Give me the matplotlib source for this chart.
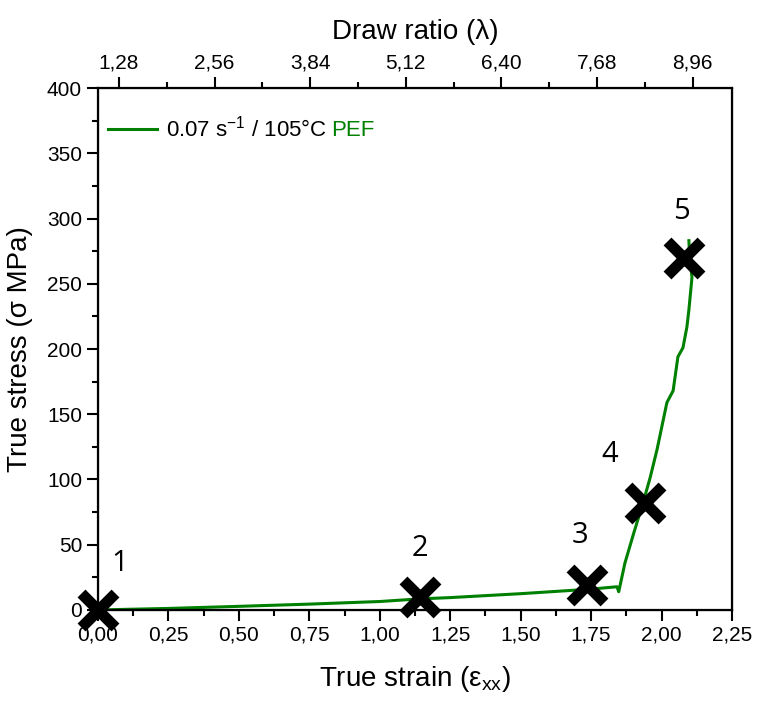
import numpy as np
import matplotlib
matplotlib.use('Agg')
import matplotlib.pyplot as plt
from matplotlib.ticker import MultipleLocator, FixedLocator

plt.rcParams['font.family'] = ['Liberation Sans', 'DejaVu Sans']
plt.rcParams['mathtext.fontset'] = 'custom'
plt.rcParams['mathtext.rm'] = 'Liberation Sans'
plt.rcParams['mathtext.it'] = 'Liberation Sans:italic'

# stress-strain curve
strain = [0.0, 0.10, 0.25, 0.50, 0.75, 1.00, 1.14, 1.25, 1.50, 1.75, 1.80, 1.842, 1.848,
          1.870, 1.90, 1.934, 1.959, 1.984, 2.019, 2.041, 2.058, 2.076, 2.090, 2.097,
          2.108, 2.100, 2.097]
stress = [0.0, 0.5, 1.2, 2.8, 4.5, 6.5, 8.5, 9.5, 12.5, 16.0, 17.0, 17.8, 14.0,
          36.0, 58.0, 82.0, 101.0, 123.0, 159.0, 168.0, 194.0, 201.0, 217.0, 230.0,
          255.0, 270.0, 283.0]

# marked points
mark_x = [0.0, 1.143, 1.735, 1.941, 2.079]
mark_y = [0.0, 10.0, 19.0, 82.0, 270.0]
mark_lbl = ['1', '2', '3', '4', '5']
lbl_x = [0.078, 1.143, 1.71, 1.817, 2.072]
lbl_y = [36.0, 47.5, 57.0, 119.0, 305.0]

top_ticks = [1.28, 2.56, 3.84, 5.12, 6.40, 7.68, 8.96]

fig = plt.figure(figsize=(7.61, 7.03), dpi=100)
ax = fig.add_axes([0.1288, 0.1323, 0.8331, 0.7425])

ax.plot(strain, stress, color='#008000', lw=2.2, label='0.07 s$^{\\mathregular{-1}}$ / 105°C')
ax.plot(mark_x, mark_y, 'x', color='black', ms=25, mew=8, clip_on=False, zorder=5)
for xx, yy, t in zip(lbl_x, lbl_y, mark_lbl):
    ax.text(xx, yy, t, fontsize=21, ha='center', va='center', family=['Open Sans', 'DejaVu Sans'])

ax.set_xlim(0, 2.25)
ax.set_ylim(0, 400)
ax.xaxis.set_major_locator(MultipleLocator(0.25))
ax.xaxis.set_minor_locator(MultipleLocator(0.125))
ax.yaxis.set_major_locator(MultipleLocator(50))
ax.yaxis.set_minor_locator(MultipleLocator(25))
ax.xaxis.set_major_formatter(lambda v, p: '{:.2f}'.format(v).replace('.', ','))
ax.tick_params(which='major', direction='out', length=8, width=1.5, labelsize=15)
ax.tick_params(which='minor', direction='out', length=4, width=1.5)
ax.tick_params(right=False, which='both')
for s in ax.spines.values():
    s.set_linewidth(1.6)

ax.set_xlabel('True strain (ε$_{\\mathregular{xx}}$)', fontsize=20, labelpad=14)
ax.set_ylabel('True stress (σ MPa)', fontsize=20, labelpad=10)

leg = ax.legend(loc='upper left', bbox_to_anchor=(0.005, 0.96), frameon=False, fontsize=16,
                handlelength=2.2, borderaxespad=0.0, borderpad=0.3, handletextpad=0.4)

# top axis: draw ratio, linear from 1 to exp(2.25)
ax2 = ax.twiny()
ax2.set_xlim(1, np.exp(2.25))
ax2.xaxis.set_major_locator(FixedLocator(top_ticks))
ax2.xaxis.set_minor_locator(FixedLocator([t + 0.64 for t in top_ticks[:-1]]))
ax2.xaxis.set_major_formatter(lambda v, p: '{:.2f}'.format(v).replace('.', ','))
ax2.tick_params(which='major', direction='out', length=8, width=1.5, labelsize=15)
ax2.tick_params(which='minor', direction='out', length=4, width=1.5)
ax2.set_xlabel('Draw ratio (λ)', fontsize=20, labelpad=10)

# green "PEF" right after the legend text
fig.canvas.draw()
bb = leg.get_texts()[0].get_window_extent()
fig.text((bb.x1 + 5) / fig.bbox.width, bb.y0 / fig.bbox.height, 'PEF',
         fontsize=16, color='#008000', ha='left', va='bottom')

fig.savefig('out.png', dpi=100)
